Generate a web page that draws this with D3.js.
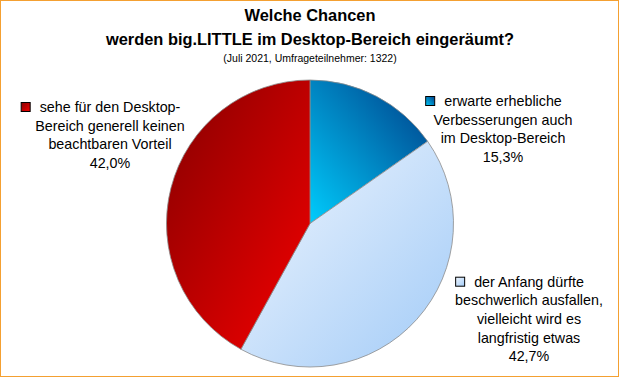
<!DOCTYPE html>
<html>
<head>
<meta charset="utf-8">
<script src="https://cdn.jsdelivr.net/npm/d3@7"></script>
<style>
  body { margin: 0; background: #fff; }
  svg { display: block; font-family: "Liberation Sans", Arial, sans-serif; }
</style>
</head>
<body>
<script>
  // chart data
  const categories = [
    ['erwarte erhebliche', 'Verbesserungen auch', 'im Desktop-Bereich'],
    ['der Anfang dürfte', 'beschwerlich ausfallen,', 'vielleicht wird es', 'langfristig etwas'],
    ['sehe für den Desktop-', 'Bereich generell keinen', 'beachtbaren Vorteil']
  ];
  const values = [15.3, 42.7, 42.0];
  const titleLines = ['Welche Chancen', 'werden big.LITTLE im Desktop-Bereich eingeräumt?'];
  const subtitle = '(Juli 2021, Umfrageteilnehmer: 1322)';

  // gradient colours per slice: [from, to, x1, y1, x2, y2]
  const gradients = [
    ['#003c86', '#00ccfc', 1, 0, 0, 1],
    ['#f0f6fe', '#a2cbf7', 0, 0, 1, 1],
    ['#850000', '#f40000', 0, 0, 1, 1]
  ];
  // label anchor (centre x, first baseline)
  const labelPos = [[503, 106], [529, 286.7], [110, 112]];

  let width = 620, height = 378;
  let cx = 310, cy = 223.5, radius = 143.5;

  let svg = d3.select('body').append('svg')
    .attr('width', width)
    .attr('height', height);

  // white background with orange frame
  svg.append('rect')
    .attr('x', 0.5).attr('y', 0.5)
    .attr('width', 618).attr('height', 376)
    .attr('fill', '#fff')
    .attr('stroke', '#f4a031')
    .attr('stroke-width', 1);

  let defs = svg.append('defs');
  gradients.forEach((g, i) => {
    let lg = defs.append('linearGradient')
      .attr('id', 'grad' + i)
      .attr('x1', g[2]).attr('y1', g[3])
      .attr('x2', g[4]).attr('y2', g[5]);
    lg.append('stop').attr('offset', '0%').attr('stop-color', g[0]);
    lg.append('stop').attr('offset', '100%').attr('stop-color', g[1]);
  });

  // title
  svg.selectAll('.title')
    .data(titleLines)
    .enter()
    .append('text')
      .attr('x', 310)
      .attr('y', (d, i) => 21 + i * 24)
      .attr('text-anchor', 'middle')
      .style('font-size', '16.4px')
      .style('font-weight', 'bold')
      .text(d => d);

  svg.append('text')
    .attr('x', 310)
    .attr('y', 62)
    .attr('text-anchor', 'middle')
    .style('font-size', '10.5px')
    .text(subtitle);

  // pie
  let pie = d3.pie().sort(null).value(d => d);
  let arc = d3.arc().innerRadius(0).outerRadius(radius);

  let g = svg.append('g').attr('transform', 'translate(' + cx + ',' + cy + ')');
  g.selectAll('path')
    .data(pie(values))
    .enter()
    .append('path')
      .attr('d', arc)
      .attr('fill', (d, i) => 'url(#grad' + i + ')')
      .attr('stroke', '#8c8c8c')
      .attr('stroke-width', 0.8);

  // labels
  let fmt = v => v.toFixed(1).replace('.', ',') + '%';
  values.forEach((v, i) => {
    let lines = categories[i].concat([fmt(v)]);
    let x = labelPos[i][0], y0 = labelPos[i][1];
    let first = null;
    lines.forEach((line, j) => {
      let t = svg.append('text')
        .attr('x', x)
        .attr('y', y0 + j * 18.6)
        .attr('text-anchor', 'middle')
        .style('font-size', '14.3px')
        .style('fill', '#000')
        .text(line);
      if (j === 0) first = t;
    });
    let w = first.node().getComputedTextLength();
    svg.append('rect')
      .attr('x', x - w / 2 - 19 + 0.5)
      .attr('y', y0 - 10 + 0.5)
      .attr('width', 9)
      .attr('height', 9)
      .attr('fill', 'url(#grad' + i + ')')
      .attr('stroke', '#000')
      .attr('stroke-width', 1);
  });
</script>
</body>
</html>
